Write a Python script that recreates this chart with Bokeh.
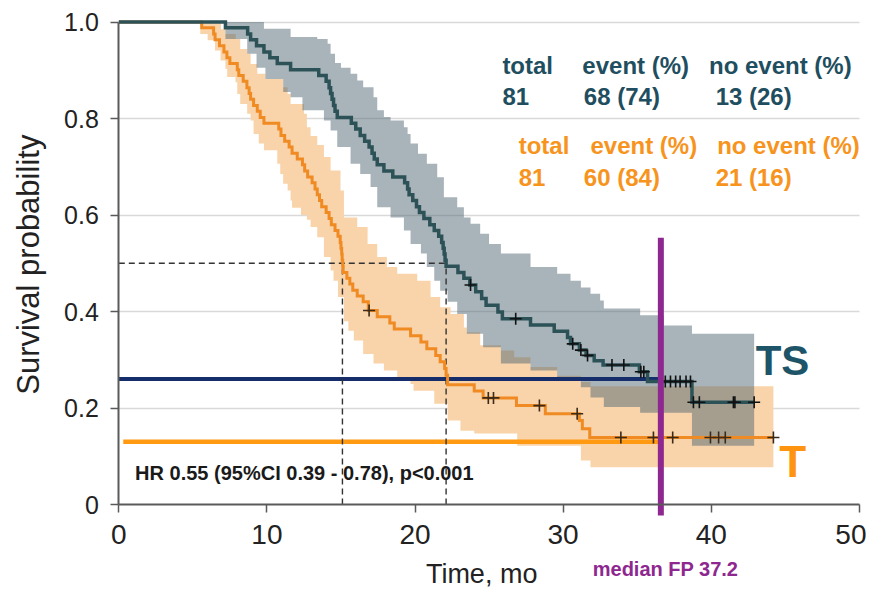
from bokeh.plotting import figure
from bokeh.models import Range1d, Label, FixedTicker
from bokeh.embed import file_html
from bokeh.resources import INLINE
import math

# ---------------- data ----------------
# TS arm: Kaplan-Meier step times (months) and survival after each step
ts_t = [0, 7.2, 8.7, 8.9, 9.3, 9.8, 10.2, 10.7, 11.6, 13.5, 14.0, 14.2, 14.3, 14.4, 14.5, 14.6, 14.75,
        15.7, 16.0, 16.3, 16.6, 16.9, 17.1, 17.25, 17.45, 17.9, 18.5, 19.3, 19.5, 19.6, 19.85, 20.1,
        20.3, 20.6, 21.0, 21.3, 21.6, 21.8, 21.9, 21.97, 22.03, 22.1, 22.9, 23.3, 23.7, 24.1, 24.5,
        24.8, 25.6, 25.9, 27.8, 29.4, 30.3, 30.5, 31.1, 31.55, 32.1, 32.7, 35.15, 35.7, 38.7]
ts_s = [1.0, 0.988, 0.975, 0.963, 0.951, 0.938, 0.926, 0.914, 0.901, 0.889, 0.877, 0.864, 0.852, 0.840,
        0.827, 0.815, 0.802, 0.790, 0.778, 0.765, 0.753, 0.741, 0.728, 0.716, 0.704, 0.691, 0.679,
        0.667, 0.654, 0.642, 0.630, 0.617, 0.605, 0.593, 0.580, 0.568, 0.556, 0.543, 0.531, 0.519,
        0.506, 0.494, 0.481, 0.469, 0.455, 0.441, 0.427, 0.413, 0.399, 0.385, 0.372, 0.359, 0.346,
        0.333, 0.320, 0.309, 0.298, 0.289, 0.275, 0.255, 0.212]
ts_end = 42.9
ts_cens = [23.75, 26.8, 30.65, 31.2, 31.65, 33.3, 34.1, 35.25, 35.45, 36.9, 37.25, 37.6, 37.9,
           38.3, 38.6, 38.8, 39.2, 41.5, 41.6, 42.9]
ts_up_t = [0, 9.8, 11.6, 13.4, 14.1, 14.3, 14.6, 15.0, 15.65, 16.1, 16.5, 17.2, 17.45, 17.9, 18.35,
           19.25, 19.5, 19.7, 20.2, 20.8, 21.5, 21.95, 22.85, 23.3, 23.75, 24.4, 25.0, 25.8, 27.8,
           29.6, 30.5, 31.2, 31.85, 32.5, 32.75, 35.2, 36.8, 38.7]
ts_up_s = [1.0, 0.986, 0.969, 0.965, 0.955, 0.934, 0.915, 0.905, 0.893, 0.879, 0.865, 0.844, 0.817,
           0.803, 0.796, 0.782, 0.768, 0.748, 0.727, 0.706, 0.678, 0.637, 0.616, 0.595, 0.582, 0.561,
           0.540, 0.520, 0.492, 0.478, 0.464, 0.450, 0.437, 0.423, 0.406, 0.392, 0.371, 0.354]
ts_lo_t = [0, 7.2, 8.67, 9.3, 9.9, 11.1, 11.6, 12.4, 13.85, 14.3, 14.75, 15.65, 16.3, 17.0, 17.45,
           18.35, 19.25, 19.7, 20.4, 20.8, 21.3, 21.7, 22.2, 22.85, 23.5, 24.6, 25.8, 27.8, 29.6,
           31.2, 31.85, 32.75, 35.2, 38.7]
ts_lo_s = [1.0, 0.965, 0.934, 0.905, 0.882, 0.855, 0.844, 0.817, 0.796, 0.775, 0.741, 0.706, 0.685,
           0.658, 0.616, 0.595, 0.568, 0.540, 0.520, 0.492, 0.464, 0.443, 0.420, 0.395, 0.354, 0.326,
           0.292, 0.278, 0.264, 0.243, 0.222, 0.202, 0.190, 0.122]

# T arm
t_t = [0, 5.6, 6.4, 6.5, 6.8, 7.1, 7.3, 7.5, 8.0, 8.1, 8.4, 8.65, 8.8, 8.9, 9.1, 9.35, 9.55, 9.8,
       10.8, 10.95, 11.2, 11.5, 11.7, 12.05, 12.4, 12.55, 12.75, 13.05, 13.25, 13.4, 13.55, 13.7,
       14.0, 14.2, 14.35, 14.6, 14.8, 14.95, 15.0, 15.05, 15.08, 15.12, 15.15, 15.4, 15.6, 15.8,
       16.1, 16.5, 16.85, 17.45, 18.3, 18.6, 19.7, 20.4, 20.8, 21.4, 21.7, 22.0, 22.1, 22.2, 24.0,
       24.6, 26.85, 28.8, 31.1, 31.3, 31.8]
t_s = [1.0, 0.988, 0.975, 0.963, 0.951, 0.938, 0.926, 0.914, 0.901, 0.889, 0.877, 0.864, 0.852,
       0.840, 0.827, 0.815, 0.802, 0.790, 0.778, 0.765, 0.753, 0.741, 0.728, 0.716, 0.704, 0.691,
       0.679, 0.667, 0.654, 0.642, 0.630, 0.617, 0.605, 0.593, 0.580, 0.568, 0.556, 0.543, 0.531,
       0.519, 0.506, 0.494, 0.481, 0.469, 0.457, 0.444, 0.432, 0.420, 0.402, 0.389, 0.376, 0.364,
       0.350, 0.337, 0.323, 0.309, 0.296, 0.282, 0.268, 0.248, 0.235, 0.221, 0.205, 0.188, 0.174,
       0.157, 0.139]
t_end = 44.2
t_cens = [16.9, 24.95, 25.3, 28.4, 30.95, 33.9, 36.1, 37.4, 39.95, 40.5, 40.95, 44.2]
t_up_t = [0, 6.9, 7.2, 7.9, 8.2, 8.67, 8.9, 9.35, 9.9, 11.1, 11.4, 11.6, 12.5, 12.7, 12.95, 13.4,
          13.85, 14.3, 14.97, 15.2, 16.1, 16.8, 17.45, 18.1, 18.8, 20.15, 21.05, 21.7, 22.4, 23.3,
          23.5, 24.4, 25.8, 26.7, 27.8, 29.6, 31.2, 31.85]
t_up_s = [1.0, 0.985, 0.975, 0.965, 0.944, 0.934, 0.913, 0.893, 0.882, 0.865, 0.851, 0.830, 0.810,
          0.782, 0.764, 0.745, 0.720, 0.692, 0.651, 0.595, 0.575, 0.540, 0.513, 0.492, 0.478, 0.464,
          0.430, 0.409, 0.395, 0.367, 0.357, 0.330, 0.319, 0.305, 0.285, 0.267, 0.254, 0.245]
t_lo_t = [0, 5.5, 6.0, 6.5, 6.87, 7.2, 7.32, 7.88, 8.0, 8.2, 8.67, 8.9, 9.1, 9.45, 9.8, 10.7, 10.9,
          11.1, 11.4, 11.6, 11.7, 12.3, 12.7, 12.95, 13.4, 13.85, 14.3, 14.5, 14.8, 15.2, 15.5,
          15.87, 16.5, 17.2, 17.9, 18.8, 19.7, 19.9, 21.3, 22.2, 23.07, 24.0, 26.9, 31.2, 31.85]
t_lo_s = [1.0, 0.975, 0.962, 0.941, 0.920, 0.903, 0.886, 0.875, 0.851, 0.830, 0.810, 0.796, 0.768,
          0.748, 0.734, 0.706, 0.685, 0.665, 0.651, 0.630, 0.615, 0.600, 0.590, 0.575, 0.554, 0.513,
          0.485, 0.464, 0.430, 0.380, 0.360, 0.340, 0.312, 0.292, 0.278, 0.264, 0.250, 0.236, 0.209,
          0.174, 0.153, 0.147, 0.122, 0.091, 0.077]

median_ts = 22.1
median_t = 15.1
median_fp_x = 36.6
median_fp_label = "median FP 37.2"
ts_ref_level = 0.26
t_ref_level = 0.13

x_ticks = [0, 10, 20, 30, 40, 50]
y_ticks = [0, 0.2, 0.4, 0.6, 0.8, 1.0]
grid_ticks = [0.2, 0.4, 0.6, 0.8, 1.0]

header = ["total", "event (%)", "no event (%)"]
ts_row = ["81", "68 (74)", "13  (26)"]
t_row = ["81", "60 (84)", "21 (16)"]
hr_text = "HR 0.55 (95%CI 0.39 - 0.78), p<0.001"

# ---------------- helpers ----------------
def step_path(t, s, end):
    xs, ys = [], []
    for i in range(len(t)):
        nxt = t[i + 1] if i + 1 < len(t) else end
        xs += [t[i], nxt]
        ys += [s[i], s[i]]
    return xs, ys

def surv_at(t, s, x):
    v = s[0]
    for ti, si in zip(t, s):
        if ti <= x:
            v = si
    return v

def band(ut, us, lt, ls, end):
    ux, uy = step_path(ut, us, end)
    lx, ly = step_path(lt, ls, end)
    return ux + lx[::-1], uy + ly[::-1]

# ---------------- figure ----------------
TEAL = "#2c5258"
TEAL_TXT = "#1f4e60"
ORANGE = "#f08a22"
ORANGE_TXT = "#f7941d"
FONT = "Liberation Sans"

p = figure(width=866, height=594, output_backend="svg", toolbar_location=None,
           x_range=Range1d(-7.988, 50.486), y_range=Range1d(-0.1865, 1.0197),
           min_border_left=0, min_border_right=0, min_border_top=12, min_border_bottom=0)
p.outline_line_color = None
p.background_fill_color = "white"
p.border_fill_color = "white"
p.xgrid.visible = False
p.ygrid.ticker = FixedTicker(ticks=grid_ticks)
p.ygrid.grid_line_color = "#d9d9d9"
p.ygrid.grid_line_width = 1.6
grid_ok = True
try:
    p.ygrid.cross_bounds = (0, 50)
except Exception:
    grid_ok = False
    p.ygrid.visible = False
if not grid_ok:
    p.segment(x0=[0] * len(grid_ticks), y0=grid_ticks, x1=[50] * len(grid_ticks), y1=grid_ticks,
              line_color="#d9d9d9", line_width=1.6)

p.xaxis.fixed_location = 0
p.yaxis.fixed_location = 0
p.xaxis.ticker = FixedTicker(ticks=x_ticks)
p.yaxis.ticker = FixedTicker(ticks=y_ticks)
p.yaxis.major_label_overrides = {0: "0", 1: "1.0"}
p.xaxis.bounds = (0, 50)
p.yaxis.bounds = (0, 1)
for ax in (p.xaxis, p.yaxis):
    ax.axis_line_color = "#5a5a5a"
    ax.axis_line_width = 2
    ax.major_tick_line_color = "#5a5a5a"
    ax.major_tick_line_width = 1.5
    ax.major_tick_out = 8
    ax.major_tick_in = 0
    ax.minor_tick_out = 0
    ax.minor_tick_in = 0
    ax.major_label_text_font = FONT
    ax.major_label_text_color = "#222222"
p.yaxis.major_label_text_font_size = "25px"
p.yaxis.major_label_standoff = 12
p.xaxis.major_label_text_font_size = "28px"
p.xaxis.major_label_standoff = 12

# bands
bx, by = band(t_up_t, t_up_s, t_lo_t, t_lo_s, t_end)
p.patch(bx, by, fill_color="#f9d3a9", fill_alpha=1.0, line_color=None)
bx, by = band(ts_up_t, ts_up_s, ts_lo_t, ts_lo_s, ts_end)
p.patch(bx, by, fill_color="#516975", fill_alpha=0.5, line_color=None)

# reference lines
p.line([0, median_fp_x], [ts_ref_level, ts_ref_level], line_color="#162d6b", line_width=4)
p.line([0.3, median_fp_x], [t_ref_level, t_ref_level], line_color="#ff9a12", line_width=4.5)

# median dashed lines
p.line([0, median_ts], [0.5, 0.5], line_color="#333333", line_width=1.4, line_dash="6 4")
p.line([median_t, median_t], [0, 0.5], line_color="#333333", line_width=1.4, line_dash="6 4")
p.line([median_ts, median_ts], [0, 0.5], line_color="#333333", line_width=1.4, line_dash="6 4")

# KM curves
x, y = step_path(t_t, t_s, t_end)
p.line(x, y, line_color=ORANGE, line_width=3, line_join="miter")
x, y = step_path(ts_t, ts_s, ts_end)
p.line(x, y, line_color=TEAL, line_width=3.5, line_join="miter")

# censor marks
p.scatter(t_cens, [surv_at(t_t, t_s, c) for c in t_cens], marker="cross", size=12,
          line_color="#3a2a1a", line_width=1.6)
p.scatter(ts_cens, [surv_at(ts_t, ts_s, c) for c in ts_cens], marker="cross", size=12,
          line_color="#111111", line_width=1.6)

# median FP line
p.line([median_fp_x, median_fp_x], [-0.023, 0.553], line_color="#8e278f", line_width=6)

# ---------------- texts ----------------
def lab(x, y, text, color, size, style="bold", align="left", baseline="alphabetic", angle=0):
    p.add_layout(Label(x=x, y=y, text=text, text_color=color, text_font=FONT,
                       text_font_size=size, text_font_style=style, text_align=align,
                       text_baseline=baseline, angle=angle))

hx_ts = [25.9, 31.3, 39.85]
rx_ts = [25.9, 31.4, 40.3]
for xx, tx in zip(hx_ts, header):
    lab(xx, 0.909, tx, TEAL_TXT, "24px")
for xx, tx in zip(rx_ts, ts_row):
    lab(xx, 0.846, tx, TEAL_TXT, "24px")
hx_t = [27.0, 31.85, 40.4]
rx_t = [27.0, 31.4, 40.3]
for xx, tx in zip(hx_t, header):
    lab(xx, 0.745, tx, ORANGE_TXT, "24px")
for xx, tx in zip(rx_t, t_row):
    lab(xx, 0.678, tx, ORANGE_TXT, "24px")

lab(43.0, 0.299, "TS", "#1d5468", "42px")
lab(44.6, 0.089, "T", "#ff9410", "44px")
lab(1.1, 0.0645, hr_text, "#1a1a1a", "20px")
lab(32.0, -0.1345, median_fp_label, "#8e278f", "20px")
lab(24.5, -0.1435, "Time, mo", "#222222", "27px", style="normal", align="center")
lab(-6.1, 0.497, "Survival probability", "#222222", "31px", style="normal", align="center",
    baseline="middle", angle=math.pi / 2)

open("out.html", "w").write(file_html(p, INLINE))
